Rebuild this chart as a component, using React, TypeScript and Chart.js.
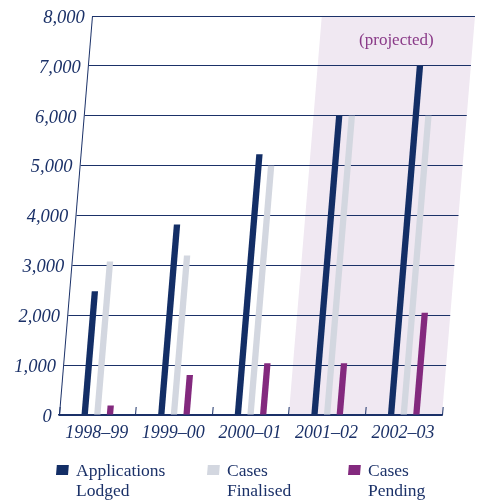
import React, { useEffect, useRef } from 'react';
import { Chart, registerables } from 'chart.js';

Chart.register(...registerables);

// ---- data ----
const categories = ['1998–99', '1999–00', '2000–01', '2001–02', '2002–03'];
const applicationsLodged = [2480, 3820, 5230, 6000, 7000];
const casesFinalised = [3080, 3200, 5000, 6000, 6000];
const casesPending = [190, 800, 1040, 1040, 2050];
const seriesNames = [
  ['Applications', 'Lodged'],
  ['Cases', 'Finalised'],
  ['Cases', 'Pending'],
];
const yMin = 0;
const yMax = 8000;
const yStep = 1000;
const projectedFirstIndex = 3;
const projectedLabel = '(projected)';
const projectedLabelValue = 7500;

// ---- styles ----
const SKEW = 33 / 399;
const NAVY = '#1b3168';
const BAR_NAVY = '#132e66';
const BAR_GREY = '#d3d7e0';
const BAR_PURPLE = '#83297e';
const SHADE = '#f0e8f2';
const PURPLE_TEXT = '#8a3a88';
const SERIF = "'Liberation Serif', 'DejaVu Serif', serif";
const Y_LABEL_DROP = 2;

const skewPlugin = {
  id: 'skewPlugin',
  beforeDraw(chart: any) {
    const { ctx, chartArea, scales } = chart;
    const top = chartArea.top;
    for (const s of [scales.x, scales.y]) {
      const items = s.getLabelItems();
      for (const it of items) {
        if (it._skewed) continue;
        it._skewed = true;
        const t = it.options.translation;
        if (s === scales.y) t[1] += Y_LABEL_DROP;
        t[0] -= SKEW * (t[1] - top);
      }
    }
    ctx.save();
    ctx.transform(1, 0, -SKEW, 1, SKEW * top, 0);
    const x0 = scales.x.getPixelForValue(projectedFirstIndex - 0.5);
    const x1 = scales.x.getPixelForValue(categories.length - 0.5);
    ctx.fillStyle = SHADE;
    ctx.fillRect(x0, chartArea.top, x1 - x0, chartArea.bottom - chartArea.top);
  },
  afterDatasetsDraw(chart: any) {
    chart.ctx.restore();
  },
  afterDraw(chart: any) {
    const { ctx, chartArea, scales } = chart;
    // projected label
    const py = scales.y.getPixelForValue(projectedLabelValue);
    const pxTop = scales.x.getPixelForValue((projectedFirstIndex - 0.5 + categories.length - 0.5) / 2);
    const px = pxTop - SKEW * (py - chartArea.top);
    ctx.save();
    ctx.font = `17px ${SERIF}`;
    ctx.fillStyle = PURPLE_TEXT;
    ctx.textAlign = 'center';
    ctx.textBaseline = 'middle';
    ctx.fillText(projectedLabel, px, py);
    ctx.restore();

    // legend
    const colX = [56, 207, 348];
    const boxTop = 465;
    const boxH = 10;
    const boxW = 12;
    const lineH = 20;
    const firstBaseline = 476;
    ctx.save();
    ctx.font = `17.5px ${SERIF}`;
    ctx.textAlign = 'left';
    ctx.textBaseline = 'alphabetic';
    chart.data.datasets.forEach((ds: any, i: number) => {
      const x = colX[i];
      const sh = SKEW * boxH;
      ctx.fillStyle = ds.backgroundColor;
      ctx.beginPath();
      ctx.moveTo(x, boxTop + boxH);
      ctx.lineTo(x + boxW, boxTop + boxH);
      ctx.lineTo(x + boxW + sh, boxTop);
      ctx.lineTo(x + sh, boxTop);
      ctx.closePath();
      ctx.fill();
      ctx.fillStyle = NAVY;
      seriesNames[i].forEach((line, j) => {
        ctx.fillText(line, x + 20, firstBaseline + j * lineH);
      });
    });
    ctx.restore();
  },
};

export default function App() {
  const ref = useRef<HTMLCanvasElement | null>(null);

  useEffect(() => {
    if (!ref.current) return;
    const chart = new Chart(ref.current, {
      type: 'bar',
      data: {
        labels: categories,
        datasets: [
          { label: seriesNames[0].join(' '), data: applicationsLodged, backgroundColor: BAR_NAVY },
          { label: seriesNames[1].join(' '), data: casesFinalised, backgroundColor: BAR_GREY },
          { label: seriesNames[2].join(' '), data: casesPending, backgroundColor: BAR_PURPLE },
        ],
      },
      options: {
        responsive: false,
        animation: false,
        events: [],
        layout: { padding: { top: 16, right: 2, left: 0, bottom: 45 } },
        datasets: {
          bar: { barPercentage: 0.5, categoryPercentage: 0.495, borderWidth: 0 },
        },
        plugins: {
          legend: { display: false },
          tooltip: { enabled: false },
          title: { display: false },
        },
        scales: {
          x: {
            offset: true,
            grid: {
              display: true,
              drawOnChartArea: false,
              drawTicks: true,
              tickLength: -8,
              color: NAVY,
              lineWidth: 1,
              offset: true,
            },
            border: { display: true, color: NAVY, width: 1.5 },
            ticks: {
              z: 1,
              color: NAVY,
              padding: 15,
              maxRotation: 0,
              autoSkip: false,
              font: { family: SERIF, style: 'italic', size: 18 },
            },
            afterFit(scale: any) {
              scale.height = 40;
              scale.paddingLeft = 0;
              scale.paddingRight = 0;
            },
          },
          y: {
            min: yMin,
            max: yMax,
            grid: { color: NAVY, lineWidth: 1, drawTicks: false },
            border: { display: true, color: NAVY, width: 1 },
            ticks: {
              z: 1,
              stepSize: yStep,
              color: NAVY,
              padding: 7,
              font: { family: SERIF, style: 'italic', size: 18.5 },
              callback: (v: any) => Number(v).toLocaleString('en-US'),
            },
            afterFit(scale: any) {
              scale.width = 92;
              scale.paddingTop = 0;
              scale.paddingBottom = 0;
            },
          },
        },
      },
      plugins: [skewPlugin],
    });
    return () => chart.destroy();
  }, []);

  return (
    <div style={{ position: 'absolute', left: 0, top: 0, width: 477, height: 500 }}>
      <canvas ref={ref} width={477} height={500} style={{ display: 'block' }} />
    </div>
  );
}
